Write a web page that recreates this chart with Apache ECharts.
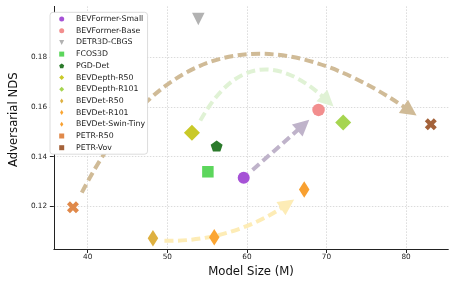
<!DOCTYPE html>
<html><head><meta charset="utf-8">
<script src="https://cdn.jsdelivr.net/npm/echarts@6/dist/echarts.min.js"></script>
<style>html,body{margin:0;padding:0;background:#fff}#c{width:457px;height:286px}</style>
</head><body><div id="c"></div>
<script>
// ---- data ----
const models = ['BEVFormer-Small','BEVFormer-Base','DETR3D-CBGS','FCOS3D','PGD-Det','BEVDepth-R50','BEVDepth-R101','BEVDet-R50','BEVDet-R101','BEVDet-Swin-Tiny','PETR-R50','PETR-Vov'];
const modelSize = [59.6, 69.0, 53.9, 55.1, 56.2, 53.1, 72.1, 48.2, 55.9, 67.2, 38.15, 83.1];
const advNDS = [0.1315, 0.1588, 0.1954, 0.1339, 0.1443, 0.1496, 0.1537, 0.1071, 0.1075, 0.1268, 0.1196, 0.1530];
const xTicks = [40, 50, 60, 70, 80];
const yTicks = [0.12, 0.14, 0.16, 0.18];
// arrow annotations (start / end in data units)
const arrowFromX = [39.26, 54.15, 60.71, 49.64];
const arrowFromY = [0.1255, 0.1545, 0.1346, 0.1061];
const arrowToX = [80.49, 70.15, 67.08, 65.11];
const arrowToY = [0.1584, 0.1624, 0.1527, 0.1209];

// ---- styles ----
const X_PATH = 'path://M2.5,0 L5,2.5 L7.5,0 L10,2.5 L7.5,5 L10,7.5 L7.5,10 L5,7.5 L2.5,10 L0,7.5 L2.5,5 L0,2.5 Z';
const PENT_PATH = 'path://M4.755,0 L9.51,3.455 L7.695,9.045 L1.815,9.045 L0,3.455 Z';
const TRI_DOWN = 'path://M0,0 L10,0 L5,10 Z';
const THIN_D = 'path://M3,0 L6,4.5 L3,9 L0,4.5 Z';
const markStyle = [
  {color:'#a652d6', symbol:'circle', size:12, icon:'circle'},
  {color:'#f28e8e', symbol:'circle', size:12.5, icon:'circle'},
  {color:'#b2b2b2', symbol:'triangle', size:12.5, rot:180, icon:TRI_DOWN},
  {color:'#5cd65c', symbol:'rect', size:11.5, icon:'rect'},
  {color:'#2b7a2b', symbol:PENT_PATH, size:[12,11], icon:PENT_PATH},
  {color:'#c9c928', symbol:'diamond', size:16, icon:'diamond'},
  {color:'#a6d550', symbol:'diamond', size:16, icon:'diamond'},
  {color:'#deb040', symbol:'diamond', size:[10.5,16.5], icon:THIN_D},
  {color:'#fba532', symbol:'diamond', size:[10.5,16.5], icon:THIN_D},
  {color:'#f8a030', symbol:'diamond', size:[10.5,16.5], icon:THIN_D},
  {color:'#e0894a', symbol:X_PATH, size:12, icon:'rect'},
  {color:'#a4623a', symbol:X_PATH, size:12, icon:'rect'}
];
const arrowStyle = [
  {color:'#d0bb97', curveness:0.57},
  {color:'#e0f2d5', curveness:0.64},
  {color:'#bfb3ca', curveness:0.0},
  {color:'#fdecb6', curveness:-0.16}
];

const series = models.map((name, i) => ({
  type:'scatter', name,
  data:[[modelSize[i], advNDS[i]]],
  symbol: markStyle[i].symbol,
  symbolSize: markStyle[i].size,
  symbolRotate: markStyle[i].rot || 0,
  itemStyle:{color: markStyle[i].color, opacity:1},
  z:4
}));
series.unshift({
  type:'lines', coordinateSystem:'cartesian2d', z:2,
  symbol:['none','triangle'], symbolSize:16,
  silent:true,
  data: arrowFromX.map((x, i) => ({
    coords:[[x, arrowFromY[i]], [arrowToX[i], arrowToY[i]]],
    lineStyle:{color: arrowStyle[i].color, curveness: arrowStyle[i].curveness, width:4, type:[9,4.5], opacity:1}
  }))
});

const FONT = 'DejaVu Sans';
const chart = echarts.init(document.getElementById('c'), null, {renderer:'canvas'});
chart.setOption({
  animation:false,
  backgroundColor:'#fff',
  textStyle:{fontFamily:FONT},
  grid:{left:46, right:8.7, top:6.4, bottom:37, containLabel:false},
  legend:{
    orient:'vertical', left:50, top:12.3,
    padding:[2.2, 2.5, 2, 9.2],
    itemWidth:5, itemHeight:5, itemGap:2.7,
    backgroundColor:'#fff', borderColor:'#d3d3d3', borderWidth:0.8, borderRadius:3,
    textStyle:{fontFamily:FONT, fontSize:7.8, color:'#222', lineHeight:9, padding:[0,0,0,6.8]},
    data: models.map((name, i) => ({name, icon: markStyle[i].icon}))
  },
  xAxis:{
    type:'value', min:35.75, max:85.3,
    name:'Model Size (M)', nameLocation:'middle', nameGap:15,
    nameTextStyle:{fontFamily:FONT, fontSize:11.7, color:'#111'},
    axisLine:{show:true, lineStyle:{color:'#222', width:1}},
    axisTick:{show:true, customValues:xTicks, length:4, lineStyle:{color:'#222', width:1}},
    axisLabel:{customValues:xTicks, fontFamily:FONT, fontSize:7.3, color:'#222', margin:5},
    splitLine:{show:true, lineStyle:{color:'#d2d2d2', width:0.8, type:[1.5,1.5]}}
  },
  yAxis:{
    type:'value', min:0.1028, max:0.2005,
    name:'Adversarial NDS', nameLocation:'middle', nameGap:27,
    nameTextStyle:{fontFamily:FONT, fontSize:11.7, color:'#111', padding:[0,0,0,16]},
    axisLine:{show:true, lineStyle:{color:'#222', width:1}},
    axisTick:{show:true, customValues:yTicks, length:4, lineStyle:{color:'#222', width:1}},
    axisLabel:{customValues:yTicks, fontFamily:FONT, fontSize:7.3, color:'#222', margin:6.7,
      formatter: v => v.toFixed(2)},
    splitLine:{show:true, lineStyle:{color:'#d2d2d2', width:0.8, type:[1.5,1.5]}}
  },
  series
});
</script></body></html>
